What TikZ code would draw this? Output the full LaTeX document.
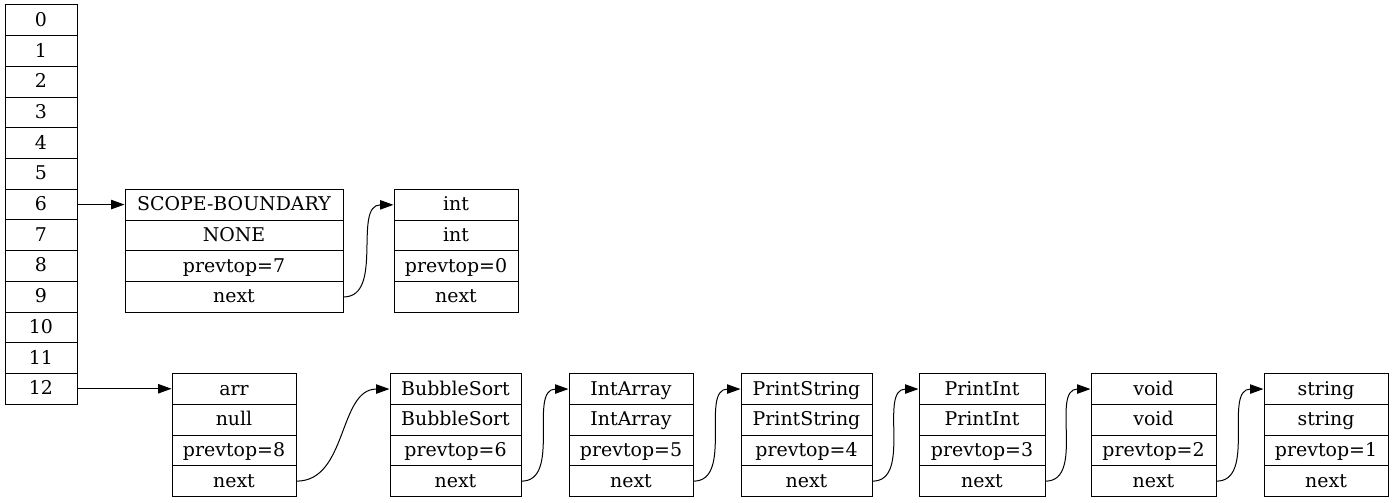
\documentclass[tikz,border=0pt]{standalone}
\usepackage{fontspec}
\setmainfont{DejaVu Serif}
\usetikzlibrary{arrows.meta}

% one record = four stacked cells, named <name>-0 .. <name>-3
\newcommand\recordbox[8]{%
  \node[cell, minimum width=#4*0.75pt] (#1-0) at (#2, #3+15.35) {#5};
  \node[cell, minimum width=#4*0.75pt] (#1-1) at (#2, #3+46.05) {#6};
  \node[cell, minimum width=#4*0.75pt] (#1-2) at (#2, #3+76.75) {#7};
  \node[cell, minimum width=#4*0.75pt] (#1-3) at (#2, #3+107.45) {#8};
}

\begin{document}
\begin{tikzpicture}[x=0.75pt, y=-0.75pt,
  cell/.style={draw, rectangle, line width=0.75pt, inner sep=0pt,
    minimum height=30.7*0.75pt, text height=11.5pt, text depth=2.5pt,
    font=\fontsize{14.2}{16}\selectfont},
  link/.style={line width=0.75pt, -{Triangle[length=10pt, width=7pt]}}]
\useasboundingbox (0,0) rectangle (1393,503);

% the stack of slots
\foreach \i in {0,...,12}
  \node[cell, minimum width=72*0.75pt] (a\i) at (41, 5+30.7*\i+15.35) {\i};

% scope chain hanging off slot 6
\recordbox{scope}{234}{189.5}{218}{SCOPE-BOUNDARY}{NONE}{prevtop=7}{next}
\recordbox{int}{456}{189.5}{124}{int}{int}{prevtop=0}{next}

% symbol chain hanging off slot 12
\recordbox{arr}{234}{373.7}{124}{arr}{null}{prevtop=8}{next}
\recordbox{bsort}{455.5}{373.7}{131}{BubbleSort}{BubbleSort}{prevtop=6}{next}
\recordbox{iarr}{631}{373.7}{124}{IntArray}{IntArray}{prevtop=5}{next}
\recordbox{pstr}{806.5}{373.7}{131}{PrintString}{PrintString}{prevtop=4}{next}
\recordbox{pint}{982}{373.7}{126}{PrintInt}{PrintInt}{prevtop=3}{next}
\recordbox{void}{1153.5}{373.7}{125}{void}{void}{prevtop=2}{next}
\recordbox{str}{1326}{373.7}{124}{string}{string}{prevtop=1}{next}

% pointers
\draw[link] (a6.east) -- (a6.east -| scope-0.west);
\draw[link] (a12.east) -- (a12.east -| arr-0.west);
\draw[link] (scope-3.east) to[out=0, in=180] (int-0.west);
\draw[link] (arr-3.east) to[out=0, in=180] (bsort-0.west);
\draw[link] (bsort-3.east) to[out=0, in=180] (iarr-0.west);
\draw[link] (iarr-3.east) to[out=0, in=180] (pstr-0.west);
\draw[link] (pstr-3.east) to[out=0, in=180] (pint-0.west);
\draw[link] (pint-3.east) to[out=0, in=180] (void-0.west);
\draw[link] (void-3.east) to[out=0, in=180] (str-0.west);
\end{tikzpicture}
\end{document}
